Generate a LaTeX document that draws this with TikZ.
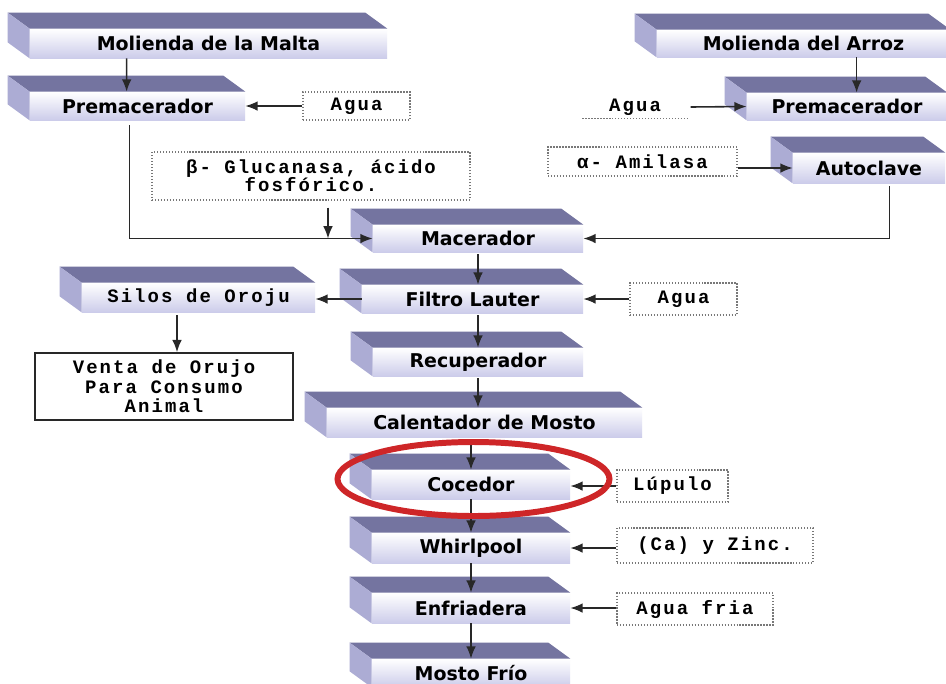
\documentclass[tikz,border=0pt]{standalone}
\usepackage{fontspec}
\usetikzlibrary{calc,arrows.meta}
\newfontfamily\slabfamily{DejaVu Sans}
\newfontfamily\notefamily[LetterSpace=11]{Liberation Mono}
\definecolor{slabtop}{RGB}{116,116,160}
\definecolor{slabside}{RGB}{172,172,212}
\definecolor{slabfront}{RGB}{204,204,234}
\definecolor{notegray}{RGB}{120,120,120}
\definecolor{ringred}{RGB}{206,38,40}
\definecolor{flowgray}{RGB}{40,40,40}
\begin{document}
\begin{tikzpicture}[x=0.2mm, y=-0.2mm,
  slab/.style={rectangle, inner sep=0pt, top color=white, bottom color=slabfront,
    font=\slabfamily\bfseries\fontsize{10.8}{12}\selectfont},
  note/.style={rectangle, inner sep=0pt, align=center, draw=notegray, densely dotted, line width=0.7pt,
    font=\notefamily\bfseries\fontsize{10.8}{10.4}\selectfont},
  flow/.style={-{Latex[length=7pt,width=5.5pt]}, line width=0.9pt, draw=flowgray}]
  \clip (0,0) rectangle (946,683);
  \fill[white] (0,0) rectangle (946,683);

  % Left branch: malt
  \node[slab, minimum width=71.4mm, minimum height=5.8mm] (malta) at (208.5,43.5) {Molienda de la Malta};
  \node[slab, minimum width=43mm, minimum height=5.6mm] (premL) at (137.5,106) {Premacerador};
  \node[note, minimum width=21.4mm, minimum height=5.6mm] (aguaL) at (356.5,106) {Agua};
  \node[note, minimum width=63.6mm, minimum height=9.6mm] (gluc) at (311,176) {β- Glucanasa, ácido\\fosfórico.};

  % Right branch: rice
  \node[slab, minimum width=58.6mm, minimum height=5.4mm] (arroz) at (803.5,43.5) {Molienda del Arroz};
  \node[slab, minimum width=40mm, minimum height=5.4mm] (premR) at (847,106.5) {Premacerador};
  \node[note, draw=none, minimum width=20.8mm, minimum height=4.4mm] (aguaR) at (635,107) {Agua};
  \draw[notegray, densely dotted, line width=0.7pt] (aguaR.south west) -- (aguaR.south east);
  \node[slab, minimum width=30.4mm, minimum height=6mm] (autoclave) at (869,168) {Autoclave};
  \node[note, minimum width=37.8mm, minimum height=5.8mm] (amilasa) at (642.5,161.5) {α- Amilasa};

  % Main line
  \node[slab, minimum width=42mm, minimum height=5.4mm] (macerador) at (478,238.5) {Macerador};
  \node[slab, minimum width=44.2mm, minimum height=5.6mm] (filtro) at (472.5,299) {Filtro Lauter};
  \node[note, minimum width=21.4mm, minimum height=6.4mm] (aguaF) at (683.5,299) {Agua};
  \node[slab, minimum width=42mm, minimum height=5.6mm] (recup) at (478,362) {Recuperador};
  \node[slab, minimum width=63mm, minimum height=5.8mm] (calent) at (484.5,422.5) {Calentador de Mosto};
  \node[slab, minimum width=39.6mm, minimum height=5.8mm] (cocedor) at (471,484.5) {Cocedor};
  \node[note, minimum width=22.2mm, minimum height=6.4mm] (lupulo) at (672.5,486) {Lúpulo};
  \node[slab, minimum width=39.6mm, minimum height=6mm] (whirl) at (471,548) {Whirlpool};
  \node[note, minimum width=39.2mm, minimum height=7mm] (zinc) at (715,545.5) {(Ca) y Zinc.};
  \node[slab, minimum width=39.6mm, minimum height=6mm] (enfri) at (471,608) {Enfriadera};
  \node[note, minimum width=31.2mm, minimum height=6.4mm] (fria) at (695,609) {Agua fria};
  \node[slab, minimum width=39.6mm, minimum height=5.6mm] (mosto) at (471,673) {Mosto Frío};

  % Spent grain
  \node[slab, minimum width=46.6mm, minimum height=5.8mm,
    font=\notefamily\bfseries\fontsize{10.8}{11}\selectfont] (silos) at (198.5,297.5) {Silos de Oroju};
  \node[rectangle, draw=flowgray, line width=0.9pt, minimum width=51.6mm, minimum height=13.4mm,
    align=center, font=\notefamily\bfseries\fontsize{10.8}{11}\selectfont] (venta) at (164,386.5)
    {Venta de Orujo\\Para Consumo\\Animal};

  % Top and side faces of the slabs
  \foreach \n in {malta,premL,arroz,premR,autoclave,macerador,filtro,recup,calent,silos,cocedor,whirl,enfri,mosto} {
    \fill[slabtop] (\n.north west) -- ++(-22,-16) -- ($(\n.north east)+(-22,-16)$) -- (\n.north east) -- cycle;
    \fill[slabside] (\n.north west) -- ++(-22,-16) -- ($(\n.south west)+(-22,-16)$) -- (\n.south west) -- cycle;
  }

  % Connectors
  \draw[flow] ([xshift=19.4mm]malta.south west) -- ([xshift=19.4mm]premL.north west);
  \draw[flow] (aguaL.west) -- (premL.east);
  \draw[flow] ([xshift=40mm]arroz.south west) -- ([xshift=40mm]arroz.south west |- premR.north);
  \draw[flow] ([xshift=0.6mm]aguaR.east) -- (premR.west);
  \draw[flow] (amilasa.east |- autoclave.west) -- (autoclave.west);
  \draw[flow] ([xshift=19.4mm,yshift=-0.6mm]autoclave.south west) |- (macerador.east);
  \draw[flow] ([xshift=20mm,yshift=-1mm]premL.south west) |- (macerador.west);
  \draw[flow] ([xshift=3.4mm,yshift=-1.4mm]gluc.south) -- ([xshift=3.4mm]gluc.south |- macerador.west);
  \draw[flow] ([yshift=-0.4mm]macerador.south) -- (macerador.south |- filtro.north);
  \draw[flow] (filtro.west) -- (silos.east |- filtro.west);
  \draw[flow] (aguaF.west) -- (filtro.east);
  \draw[flow] ([yshift=-0.4mm]recup.north |- filtro.south) -- (recup.north);
  \draw[flow] ([yshift=-0.4mm]recup.south) -- (recup.south |- calent.north);
  \draw[flow] ([xshift=-4.3mm,yshift=-0.6mm]silos.south) -- ([xshift=-4.3mm]silos.south |- venta.north);
  \draw[flow] ([yshift=-0.4mm]cocedor.north |- calent.south) -- (cocedor.north);
  \draw[flow] (cocedor.south) -- (whirl.north);
  \draw[flow] (whirl.south) -- (enfri.north);
  \draw[flow] (enfri.south) -- (mosto.north);
  \draw[flow] (lupulo.west) -- (lupulo.west -| cocedor.east);
  \draw[flow] (zinc.west |- whirl.east) -- (whirl.east);
  \draw[flow] (fria.west |- enfri.east) -- (enfri.east);

  % Highlight
  \draw[ringred, line width=3.4pt] (473.5,479) ellipse (136 and 37);
\end{tikzpicture}
\end{document}
